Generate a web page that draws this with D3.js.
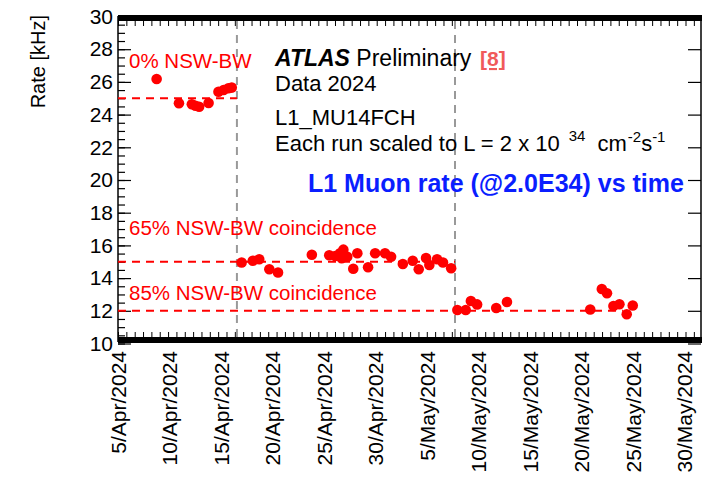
<!DOCTYPE html>
<html>
<head>
<meta charset="utf-8">
<script src="https://cdn.jsdelivr.net/npm/d3@7"></script>
<style>
  body { margin: 0; background: #fff; }
  svg { display: block; }
</style>
</head>
<body>
<svg id="chart" width="702" height="477"></svg>
<script>
// L1_MU14FCH trigger rate per run, scaled to 2e34, for the three NSW-BW coincidence settings
const times0 = ["2024-04-08T18:00", "2024-04-10T22:00", "2024-04-12T04:00", "2024-04-12T12:30",
                "2024-04-12T21:00", "2024-04-13T19:00", "2024-04-14T18:00", "2024-04-15T06:00",
                "2024-04-15T17:00", "2024-04-16T01:00"];
const rates0 = [26.18, 24.69, 24.63, 24.54, 24.48, 24.71, 25.40, 25.50, 25.61, 25.65];

const times65 = ["2024-04-17T00:00", "2024-04-18T02:00", "2024-04-18T17:00", "2024-04-19T16:30",
                 "2024-04-20T12:45", "2024-04-23T19:30", "2024-04-25T12:00", "2024-04-26T02:00",
                 "2024-04-26T13:00", "2024-04-26T17:00", "2024-04-26T21:00", "2024-04-27T06:00",
                 "2024-04-27T20:00", "2024-04-28T05:30", "2024-04-29T06:30", "2024-04-29T23:00",
                 "2024-04-30T22:00", "2024-05-01T12:00", "2024-05-02T15:30", "2024-05-03T14:30",
                 "2024-05-04T04:30", "2024-05-04T21:30", "2024-05-05T05:15", "2024-05-05T23:15",
                 "2024-05-06T13:00", "2024-05-07T08:00"];
const rates65 = [14.95, 15.06, 15.15, 14.54, 14.34, 15.43, 15.40, 15.35, 15.52, 15.21, 15.74, 15.31,
                 14.57, 15.52, 14.66, 15.52, 15.52, 15.31, 14.86, 15.06, 14.54, 15.23, 14.80, 15.15,
                 14.95, 14.60];

const times85 = ["2024-05-07T22:30", "2024-05-08T18:00", "2024-05-09T06:00", "2024-05-09T20:30",
                 "2024-05-11T17:00", "2024-05-12T18:00", "2024-05-20T20:00", "2024-05-21T23:00",
                 "2024-05-22T11:00", "2024-05-23T02:00", "2024-05-23T16:00", "2024-05-24T09:00",
                 "2024-05-24T23:00"];
const rates85 = [12.05, 12.05, 12.60, 12.39, 12.17, 12.54, 12.08, 13.33, 13.07, 12.29, 12.40, 11.79, 12.32];

// reference rate for each setting and the time up to which it is drawn
const refLabels = ["0% NSW-BW", "65% NSW-BW coincidence", "85% NSW-BW coincidence"];
const refLevels = [25, 15, 12];
const refEnds = ["2024-04-16T13:00", "2024-05-07T17:00", "2024-05-24T00:00"];

// configuration changes
const changeTimes = ["2024-04-16T13:00", "2024-05-07T17:00"];

const xTickDates = ["2024-04-05", "2024-04-10", "2024-04-15", "2024-04-20", "2024-04-25", "2024-04-30",
                    "2024-05-05", "2024-05-10", "2024-05-15", "2024-05-20", "2024-05-25", "2024-05-30"];
const yTickValues = [10, 12, 14, 16, 18, 20, 22, 24, 26, 28, 30];
const xDomain = ["2024-04-05T00:00", "2024-05-31T14:00"];

const parseT = d3.utcParse("%Y-%m-%dT%H:%M");
const parseD = d3.utcParse("%Y-%m-%d");
const fmtD = d3.utcFormat("%-d/%b/%Y");

const svg = d3.select("#chart");
const FONT = "'Liberation Sans', Arial, Helvetica, sans-serif";

const x = d3.scaleUtc().domain(xDomain.map(parseT)).range([118, 701]);
const y = d3.scaleLinear().domain([10, 30]).range([343.5, 16.5]);

const yTop = 21, yBot = 337;

// ---- y axes (left with labels, right mirrored) ----
const minorY = d3.range(10, 30.001, 0.5);
const gL = svg.append("g").attr("transform", "translate(118,0)");
gL.call(d3.axisLeft(y).tickValues(minorY).tickSize(-7).tickSizeOuter(0).tickFormat(""));
gL.call(g => g.select(".domain").remove());
const gL2 = svg.append("g").attr("transform", "translate(118,0)");
gL2.call(d3.axisLeft(y).tickValues(yTickValues).tickSize(-13).tickSizeOuter(0).tickPadding(5).tickFormat(d3.format("d")));
gL2.select(".domain").remove();
gL2.selectAll("text").attr("font-family", FONT).attr("font-size", 21).attr("fill", "#000");
svg.selectAll("g .tick line").attr("stroke", "#000").attr("stroke-width", 1.2);

const gR = svg.append("g").attr("transform", "translate(701,0)");
gR.call(d3.axisRight(y).tickValues(minorY).tickSize(-7).tickSizeOuter(0).tickFormat(""));
gR.call(d3.axisRight(y).tickValues(yTickValues).tickSize(-13).tickSizeOuter(0).tickFormat(""));
gR.selectAll(".domain").remove();
gR.selectAll("line").attr("stroke", "#000").attr("stroke-width", 1.2);

svg.append("line").attr("x1", 118).attr("x2", 118).attr("y1", 16).attr("y2", 342)
  .attr("stroke", "#000").attr("stroke-width", 1.5);
svg.append("line").attr("x1", 701).attr("x2", 701).attr("y1", 16).attr("y2", 342)
  .attr("stroke", "#000").attr("stroke-width", 1.5);

// ---- time axes: dense bands with small ticks ----
const t0 = x.domain()[0].getTime(), t1 = x.domain()[1].getTime();
const step = 0.81 * 864e5;
const minorX = d3.range(t0, t1, step).map(t => new Date(t));
svg.append("g").attr("transform", `translate(0,${yBot})`)
  .call(d3.axisBottom(x).tickValues(minorX).tickSize(-5).tickSizeOuter(0).tickFormat(""))
  .call(g => g.select(".domain").remove())
  .selectAll("line").attr("stroke", "#000").attr("stroke-width", 1);
svg.append("g").attr("transform", `translate(0,${yTop})`)
  .call(d3.axisTop(x).tickValues(minorX).tickSize(-5).tickSizeOuter(0).tickFormat(""))
  .call(g => g.select(".domain").remove())
  .selectAll("line").attr("stroke", "#000").attr("stroke-width", 1);
svg.append("rect").attr("x", 118).attr("y", 15).attr("width", 584).attr("height", 6).attr("fill", "#000");
svg.append("rect").attr("x", 118).attr("y", 337).attr("width", 584).attr("height", 6).attr("fill", "#000");

// date labels, vertical
svg.append("g").selectAll("text").data(xTickDates.map(parseD)).join("text")
  .attr("transform", d => `translate(${x(d) + 7.5},351) rotate(-90)`)
  .attr("text-anchor", "end")
  .attr("font-family", FONT).attr("font-size", 21).attr("fill", "#000")
  .text(d => fmtD(d));

// y title
svg.append("text").attr("transform", "translate(45,15) rotate(-90)")
  .attr("text-anchor", "end").attr("font-family", FONT).attr("font-size", 20).attr("fill", "#000")
  .text("Rate [kHz]");

// ---- configuration boundaries ----
svg.append("g").selectAll("line").data(changeTimes.map(parseT)).join("line")
  .attr("x1", d => x(d)).attr("x2", d => x(d)).attr("y1", yTop).attr("y2", yBot)
  .attr("stroke", "#999").attr("stroke-width", 2).attr("stroke-dasharray", "8,6");

// ---- reference levels ----
const refs = refLevels.map((v, i) => ({ v, end: parseT(refEnds[i]), label: refLabels[i] }));
svg.append("g").selectAll("line").data(refs).join("line")
  .attr("x1", x.range()[0]).attr("x2", d => x(d.end))
  .attr("y1", d => y(d.v)).attr("y2", d => y(d.v))
  .attr("stroke", "#ff0000").attr("stroke-width", 2).attr("stroke-dasharray", "8,6");

const refTextY = [68, 235, 300];
svg.append("g").selectAll("text").data(refs).join("text")
  .attr("x", 129).attr("y", (d, i) => refTextY[i])
  .attr("font-family", FONT).attr("font-size", 20.5).attr("fill", "#ff0000")
  .text(d => d.label);

// ---- run points ----
const series = [[times0, rates0], [times65, rates65], [times85, rates85]];
const pts = series.flatMap(([ts, rs]) => ts.map((t, i) => ({ t: parseT(t), r: rs[i] })));
svg.append("g").selectAll("circle").data(pts).join("circle")
  .attr("cx", d => x(d.t)).attr("cy", d => y(d.r)).attr("r", 5.3)
  .attr("fill", "#ff0000");

// ---- annotation ----
const ann = svg.append("g").attr("font-family", FONT).attr("fill", "#000");
const t1txt = ann.append("text").attr("x", 275).attr("y", 66).attr("font-size", 23);
t1txt.append("tspan").attr("font-weight", "bold").attr("font-style", "italic").text("ATLAS");
t1txt.append("tspan").text(" Preliminary ");
ann.append("text").attr("x", 480).attr("y", 66).attr("font-size", 21)
  .attr("font-weight", "bold").attr("fill", "#f05a5a").attr("text-decoration", "underline").text("[8]");
ann.append("text").attr("x", 275).attr("y", 91).attr("font-size", 22).text("Data 2024");
ann.append("text").attr("x", 275).attr("y", 125).attr("font-size", 22).text("L1_MU14FCH");
const lumi = ann.append("text").attr("x", 275).attr("y", 151).attr("font-size", 22);
lumi.append("tspan").text("Each run scaled to L = 2 x 10");
lumi.append("tspan").attr("dx", 9).attr("dy", -10).attr("font-size", 15).text("34");
lumi.append("tspan").attr("dx", 12).attr("dy", 10).text("cm");
lumi.append("tspan").attr("dx", 1).attr("dy", -9).attr("font-size", 15).text("-2");
lumi.append("tspan").attr("dy", 9).text("s");
lumi.append("tspan").attr("dy", -9).attr("font-size", 15).text("-1");

svg.append("text").attr("x", 308).attr("y", 192)
  .attr("font-family", FONT).attr("font-size", 25).attr("font-weight", "bold").attr("fill", "#0a1eff")
  .text("L1 Muon rate (@2.0E34) vs time");
</script>
</body>
</html>
